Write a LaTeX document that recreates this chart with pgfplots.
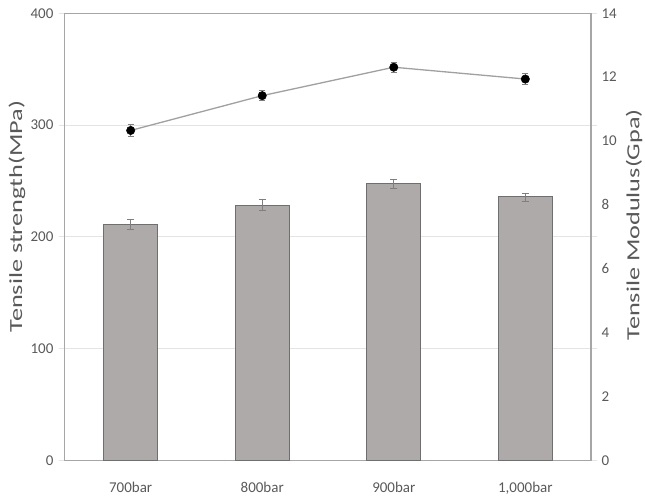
\documentclass[border=0pt]{standalone}
\usepackage{pgfplots}
\pgfplotsset{compat=1.18}
\usepackage{pgfplotstable}
\usepackage{graphicx}
\usepackage{fontspec}
\setmainfont{Carlito}
\definecolor{txt}{HTML}{595959}
\definecolor{axgray}{HTML}{A6A6A6}
\definecolor{gridc}{HTML}{E4E4E4}
\definecolor{barfill}{HTML}{AEAAAA}
\definecolor{baredge}{HTML}{6F6F6F}
\definecolor{errgray}{HTML}{7F7F7F}
\definecolor{linegray}{HTML}{A0A0A0}
\pgfplotstableread{
x y e
0 210.9 4.5
1 228.2 5
2 247.5 4
3 235.6 3.5
}\strengthdata
\pgfplotstableread{
x y e
0 10.33 0.18
1 11.42 0.15
2 12.31 0.15
3 11.94 0.18
}\modulusdata
\begin{document}
\begin{tikzpicture}
\begin{axis}[
  scale only axis, width=527pt, height=447.7pt,
  xmin=-0.5, xmax=3.5, ymin=0, ymax=400,
  xtick={0,1,2,3}, xticklabels={700bar,800bar,900bar,{1,000bar}},
  ytick={0,100,200,300,400},
  ymajorgrids, grid style={color=gridc, line width=0.8pt},
  axis line style={color=axgray, line width=1.2pt},
  xtick style={draw=none},
  ytick style={color=gridc, line width=0.8pt},
  tick align=outside, major tick length=6pt,
  /pgf/number format/assume math mode=true,
  ticklabel style={font=\fontsize{15}{17}\selectfont, text=txt},
  xticklabel style={yshift=-12pt},
  yticklabel style={xshift=-2pt},
  ylabel={\scalebox{1.42}[1]{Tensile strength(MPa)}},
  ylabel style={font=\fontsize{18.5}{20}\selectfont, text=txt, at={(axis description cs:-0.091,0.545)}, anchor=center},
  clip=false,
]
\coordinate (sw) at (rel axis cs:0,0);
\coordinate (ne) at (rel axis cs:1,1);
\addplot[ybar, bar width=54pt, fill=barfill, draw=baredge, line width=1pt,
  error bars/.cd, y dir=both, y explicit,
  error bar style={color=errgray, line width=0.8pt},
  error mark options={rotate=90, color=errgray, mark size=3.5pt, line width=0.8pt}]
  table[x=x, y=y, y error=e] {\strengthdata};
\end{axis}
\begin{axis}[
  scale only axis, width=527pt, height=447.7pt,
  xmin=-0.5, xmax=3.5, ymin=0, ymax=14,
  ytick={0,2,4,6,8,10,12,14},
  axis x line=none, axis y line*=right,
  axis line style={color=axgray, line width=1.2pt},
  ytick style={draw=none},
  /pgf/number format/assume math mode=true,
  ticklabel style={font=\fontsize{15}{17}\selectfont, text=txt},
  yticklabel style={xshift=7pt},
  ylabel={\scalebox{1.42}[1]{Tensile Modulus(Gpa)}},
  ylabel style={font=\fontsize{18.5}{20}\selectfont, text=txt, at={(axis description cs:1.0816,0.527)}, anchor=center, rotate=0},
  clip=false,
]
\addplot[color=linegray, line width=1.3pt, mark=*, mark size=4.2pt,
  mark options={fill=black, draw=black, line width=0.5pt},
  error bars/.cd, y dir=both, y explicit,
  error bar style={color=errgray, line width=0.8pt},
  error mark options={rotate=90, color=errgray, mark size=3pt, line width=0.8pt}]
  table[x=x, y=y, y error=e] {\modulusdata};
\end{axis}
\pgfresetboundingbox
\path ([xshift=-65pt,yshift=-36pt]sw) rectangle ([xshift=54pt,yshift=13.3pt]ne);
\end{tikzpicture}
\end{document}
